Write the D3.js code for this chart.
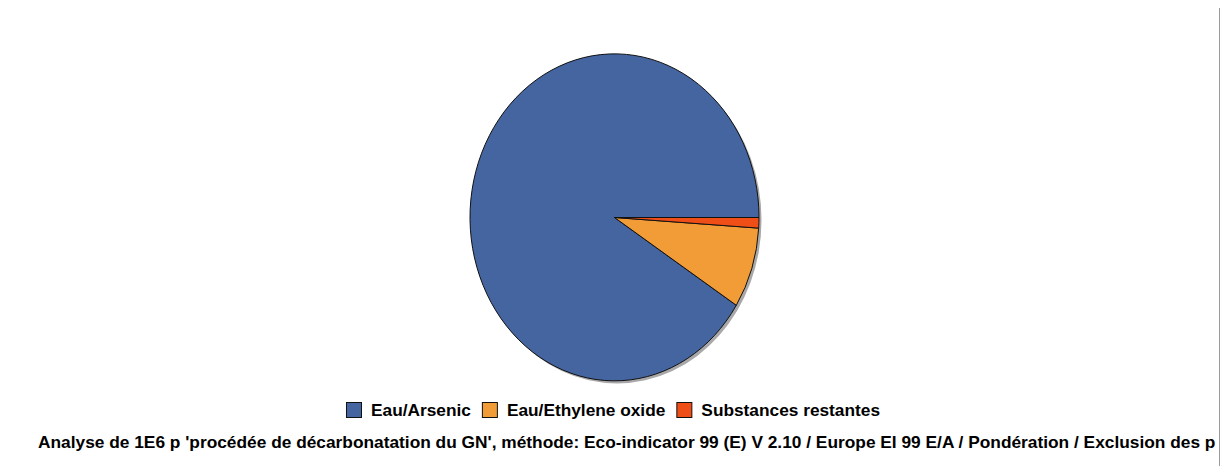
<!DOCTYPE html>
<html><head><meta charset="utf-8">
<script src="https://cdn.jsdelivr.net/npm/d3@7"></script>
<style>html,body{margin:0;padding:0;background:#fff;}svg{display:block;}</style>
</head><body>
<svg id="chart" width="1226" height="466"></svg>
<script>
const categories = ["Eau/Arsenic", "Eau/Ethylene oxide", "Substances restantes"];
const values = [90.97, 8.0, 1.03];
const colors = ["#4565A1", "#F29C37", "#F04E17"];
const titleText = "Analyse de 1E6 p 'procédée de décarbonatation du GN', méthode: Eco-indicator 99 (E) V 2.10 / Europe EI 99 E/A / Pondération / Exclusion des p";

const svg = d3.select("#chart");
const W = 1226, H = 466;
const cx = 614.5, cy = 217.5, rx = 144.5, ry = 163.5;

// right border line
svg.append("line").attr("x1", 1219.5).attr("x2", 1219.5).attr("y1", 8).attr("y2", H)
  .attr("stroke", "#9a9a9a").attr("stroke-width", 1);

const data = categories.map((c, i) => ({name: c, value: values[i], color: colors[i]}));
const pie = d3.pie().value(d => d.value).sort(null)
  .startAngle(Math.PI / 2).endAngle(Math.PI / 2 - 2 * Math.PI);
const arc = d3.arc().innerRadius(0).outerRadius(1);

// shadow
svg.append("ellipse").attr("cx", cx + 2.5).attr("cy", cy + 2.5).attr("rx", rx).attr("ry", ry)
  .attr("fill", "#a8a8a8");

const g = svg.append("g").attr("transform", `translate(${cx},${cy}) scale(${rx},${ry})`);
g.selectAll("path").data(pie(data)).join("path")
  .attr("d", arc)
  .attr("fill", d => d.data.color)
  .attr("stroke", "#111")
  .attr("stroke-width", 1)
  .attr("vector-effect", "non-scaling-stroke")
  .attr("stroke-linejoin", "round");

// legend
const font = "'Liberation Sans', Arial, sans-serif";
const legend = svg.append("g");
const sq = 16, gapSqText = 9, gapItems = 11;
let x = 0;
data.forEach(d => {
  const it = legend.append("g");
  it.append("rect").attr("x", x + 0.5).attr("y", 402.5).attr("width", sq - 1).attr("height", sq - 1)
    .attr("fill", d.color).attr("stroke", "#111").attr("stroke-width", 1);
  const t = it.append("text").attr("x", x + sq + gapSqText).attr("y", 416)
    .attr("font-family", font).attr("font-weight", "bold").attr("font-size", 17.3)
    .attr("fill", "#000").text(d.name);
  const w = t.node().getComputedTextLength();
  x += sq + gapSqText + w + gapItems;
});
const legendW = x - gapItems;
legend.attr("transform", `translate(${613 - legendW / 2},0)`);

// title (clipped at right)
svg.append("clipPath").attr("id", "clipT").append("rect")
  .attr("x", 0).attr("y", 420).attr("width", 1216.5).attr("height", 46);
const title = svg.append("text").attr("x", 38).attr("y", 448)
  .attr("clip-path", "url(#clipT)")
  .attr("font-family", font).attr("font-weight", "bold").attr("font-size", 15.5)
  .attr("fill", "#000").text(titleText);
const tw = title.node().getComputedTextLength();
const target = 1216 - 38;
title.attr("font-size", 15.5 * target / tw);
</script>
</body></html>
